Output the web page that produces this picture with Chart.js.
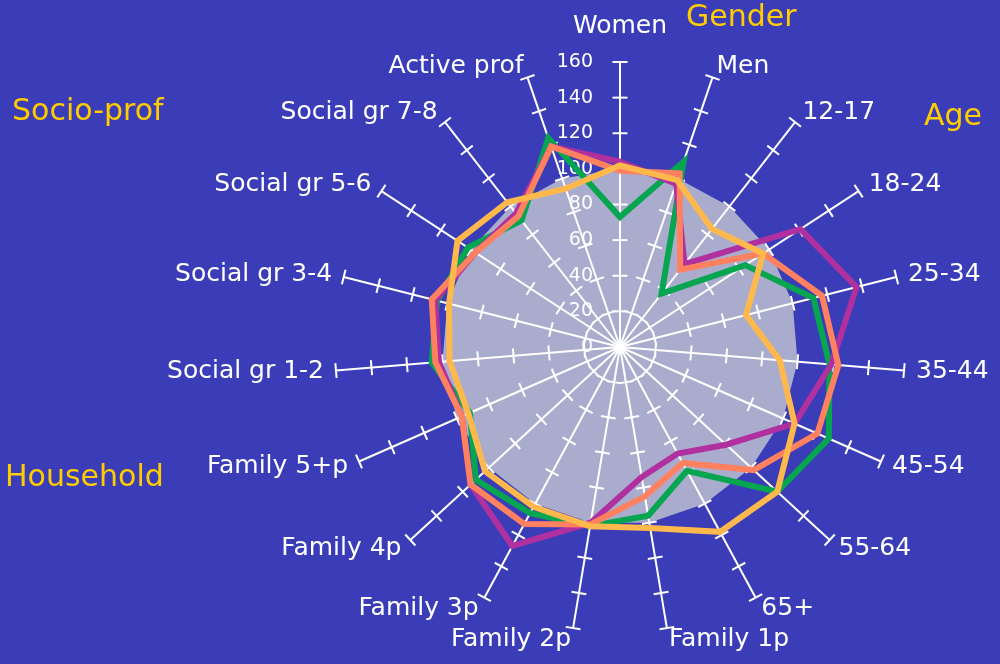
<!DOCTYPE html>
<html>
<head>
<meta charset="utf-8">
<script src="https://cdn.jsdelivr.net/npm/chart.js@4/dist/chart.umd.min.js"></script>
<style>
  html, body { margin: 0; padding: 0; background: #3a3db7; }
  #wrap { width: 1000px; height: 664px; }
</style>
</head>
<body>
<div id="wrap"><canvas id="radarChart" width="1000" height="664"></canvas></div>
<script>
// ===== data =====
const labels = ['Women', 'Men', '12-17', '18-24', '25-34', '35-44', '45-54', '55-64', '65+',
  'Family 1p', 'Family 2p', 'Family 3p', 'Family 4p', 'Family 5+p',
  'Social gr 1-2', 'Social gr 3-4', 'Social gr 5-6', 'Social gr 7-8', 'Active prof'];

const greenValues   = [73, 110, 38, 84, 112, 118, 128, 120, 79, 96, 102, 106, 110, 92, 106, 106, 102, 90, 124];
const magentaValues = [104, 97, 59, 121, 137, 119, 107, 81, 68, 74, 100, 127, 114, 97, 102, 107, 97, 95, 119];
const orangeValues  = [99, 103, 55, 96, 117, 123, 121, 102, 74, 85, 101, 113, 114, 97, 104, 109, 97, 93, 119];
const yellowValues  = [102, 99, 84, 96, 73, 90, 107, 120, 118, 103, 102, 102, 103, 93, 96, 99, 109, 103, 94];
const baseValues    = [100, 100, 100, 100, 100, 100, 100, 100, 100, 100, 100, 100, 100, 100, 100, 100, 100, 100, 100];

const tickValues = [0, 20, 40, 60, 80, 100, 120, 140, 160];
const groupNames = ['Gender', 'Age', 'Socio-prof', 'Household'];

const FONT = '"DejaVu Sans", sans-serif';
const BASE_INDEX = 4;

// axis lines, tick marks and tick numbers, drawn just above the grey area
const radarAxes = {
  id: 'radarAxes',
  afterDatasetDraw(chart, args) {
    if (args.index !== BASE_INDEX) return;
    const r = chart.scales.r;
    const ctx = chart.ctx;
    const top = tickValues[tickValues.length - 1];
    ctx.save();
    ctx.strokeStyle = '#ffffff';
    ctx.lineWidth = 2;
    labels.forEach((_, i) => {
      const end = r.getPointPositionForValue(i, top);
      ctx.beginPath();
      ctx.moveTo(r.xCenter, r.yCenter);
      ctx.lineTo(end.x, end.y);
      ctx.stroke();
      tickValues.slice(1).forEach(v => {
        const p = r.getPointPositionForValue(i, v);
        const nx = -Math.sin(p.angle) * 7.5, ny = Math.cos(p.angle) * 7.5;
        ctx.beginPath();
        ctx.moveTo(p.x - nx, p.y - ny);
        ctx.lineTo(p.x + nx, p.y + ny);
        ctx.stroke();
      });
    });
    ctx.fillStyle = '#ffffff';
    ctx.font = '19px ' + FONT;
    ctx.textAlign = 'right';
    ctx.textBaseline = 'middle';
    tickValues.forEach(v => {
      ctx.fillText(String(v), r.xCenter - 27, r.yCenter - r.getDistanceFromCenterForValue(v));
    });
    ctx.restore();
  },
  afterDraw(chart) {
    const r = chart.scales.r;
    const ctx = chart.ctx;
    ctx.save();
    ctx.fillStyle = '#ffffff';
    ctx.font = '25px ' + FONT;
    ctx.textBaseline = 'middle';
    labels.forEach((txt, i) => {
      let p = r.getPointPosition(i, r.drawingArea + 12);
      const dx = p.x - r.xCenter;
      if (Math.abs(dx) < 2) {
        p = r.getPointPosition(i, r.drawingArea + 36);
        ctx.textAlign = 'center';
      } else {
        ctx.textAlign = dx > 0 ? 'left' : 'right';
      }
      ctx.fillText(txt, p.x, p.y);
    });
    // group captions
    ctx.fillStyle = '#ffcc00';
    ctx.font = '30px ' + FONT;
    ctx.textAlign = 'left';
    ctx.fillText(groupNames[0], 686, 18);
    ctx.fillText(groupNames[1], 924, 117);
    ctx.fillText(groupNames[2], 12, 112);
    ctx.fillText(groupNames[3], 5, 478);
    ctx.restore();
  }
};

const lineSet = (data, color, order) => ({
  data,
  borderColor: color,
  backgroundColor: color,
  borderWidth: 6,
  fill: false,
  pointRadius: 0,
  order
});

new Chart(document.getElementById('radarChart'), {
  type: 'radar',
  data: {
    labels,
    datasets: [
      lineSet(yellowValues, '#ffb84c', 0),
      lineSet(orangeValues, '#ff8160', 1),
      lineSet(magentaValues, '#b0309f', 2),
      lineSet(greenValues, '#05a64f', 3),
      {
        data: baseValues,
        backgroundColor: '#aaacce',
        borderWidth: 0,
        fill: true,
        pointRadius: 0,
        order: 4
      }
    ]
  },
  options: {
    responsive: false,
    animation: false,
    devicePixelRatio: 1,
    layout: { padding: { left: 335, right: 95, top: 62, bottom: 32 } },
    elements: { line: { tension: 0, borderJoinStyle: 'miter' } },
    plugins: { legend: { display: false }, tooltip: { enabled: false } },
    scales: {
      r: {
        min: 0,
        max: 160,
        ticks: { display: false, stepSize: 20 },
        grid: { display: false },
        angleLines: { display: false },
        pointLabels: { display: false }
      }
    }
  },
  plugins: [radarAxes]
});
</script>
</body>
</html>
